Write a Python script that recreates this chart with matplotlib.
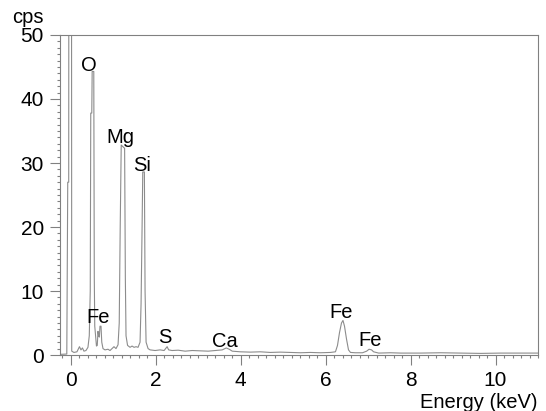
#!/usr/bin/env python3
"""EDS spectrum: counts per second vs energy"""

import matplotlib
matplotlib.use('Agg')
import matplotlib.pyplot as plt
from matplotlib.ticker import MultipleLocator

plt.rcParams['font.family'] = ['Liberation Sans', 'DejaVu Sans']

# spectrum trace (keV, cps)
energy = [-0.25, -0.09, -0.068, -0.045, -0.040, 0.019, 0.026, 0.078, 0.149,
          0.208, 0.243, 0.278, 0.314, 0.361, 0.408, 0.439, 0.462, 0.474,
          0.498, 0.507, 0.545, 0.557, 0.568, 0.585, 0.608, 0.627, 0.644,
          0.660, 0.676, 0.691, 0.715, 0.733, 0.762, 0.809, 0.880, 0.927,
          0.974, 1.021, 1.068, 1.116, 1.144, 1.167, 1.191, 1.271, 1.288,
          1.304, 1.340, 1.399, 1.446, 1.493, 1.540, 1.587, 1.634, 1.658,
          1.682, 1.698, 1.736, 1.752, 1.776, 1.823, 1.870, 1.988, 2.106,
          2.200, 2.271, 2.307, 2.389, 2.531, 2.696, 2.861, 3.050, 3.238,
          3.403, 3.568, 3.663, 3.733, 3.804, 3.993, 4.229, 4.465, 4.700,
          4.936, 5.172, 5.408, 5.644, 5.880, 6.116, 6.233, 6.281, 6.328,
          6.375, 6.410, 6.446, 6.493, 6.540, 6.587, 6.70, 6.87, 6.967,
          7.024, 7.083, 7.13, 7.25, 7.53, 7.77, 8.24, 8.71, 9.18, 9.65,
          10.13, 10.60, 11.0]
cps = [0.1, 0.15, 27, 27, 90, 90, 0.6, 0.4, 0.5,
       1.3, 0.8, 1.1, 0.6, 0.7, 1.2, 3.0, 10, 37.8,
       37.8, 44.3, 44.3, 12, 4.5, 3.2, 1.4, 1.5, 3.7,
       3.0, 2.8, 4.5, 4.5, 2.0, 1.0, 0.8, 0.9, 0.7,
       1.0, 1.3, 1.0, 1.6, 5.0, 20, 32.8, 32.3, 12,
       3.0, 1.5, 1.2, 1.4, 1.2, 1.3, 1.2, 2.0, 8.0,
       20, 28.6, 28.6, 10, 2.0, 1.0, 0.8, 0.7, 0.8,
       0.7, 1.3, 0.8, 0.7, 0.75, 0.6, 0.7, 0.65, 0.6,
       0.7, 0.8, 1.1, 0.9, 0.6, 0.5, 0.45, 0.5, 0.4,
       0.45, 0.4, 0.35, 0.4, 0.35, 0.4, 0.5, 1.5, 3.5,
       5.0, 5.4, 4.5, 2.5, 0.8, 0.4, 0.35, 0.35, 0.6,
       0.9, 0.8, 0.5, 0.3, 0.35, 0.3, 0.3, 0.35, 0.3, 0.25,
       0.3, 0.3, 0.3]

# peak labels (text, keV, cps at baseline of text)
peak_names = ['O', 'Mg', 'Si', 'Fe', 'S', 'Ca', 'Fe', 'Fe']
peak_x = [0.43, 1.18, 1.67, 0.645, 2.21, 3.62, 6.36, 7.04]
peak_y = [44.4, 33.2, 28.8, 4.95, 1.83, 1.3, 5.73, 1.4]

fig = plt.figure(figsize=(5.46, 4.11), dpi=100)
ax = fig.add_axes([60 / 546, 1 - 355 / 411, 478 / 546, 320 / 411])

ax.plot(energy, cps, color='#8c8c8c', linewidth=0.8)

for name, x, y in zip(peak_names, peak_x, peak_y):
    ax.text(x, y, name, ha='center', va='baseline', fontsize=14.5)

ax.set_xlim(-0.25, 11.0)
ax.set_ylim(0, 50)
ax.xaxis.set_major_locator(MultipleLocator(2))
ax.xaxis.set_minor_locator(MultipleLocator(0.2))
ax.yaxis.set_major_locator(MultipleLocator(10))
ax.yaxis.set_minor_locator(MultipleLocator(1))

for s in ax.spines.values():
    s.set_color('#808080')
    s.set_linewidth(0.8)
ax.tick_params(which='major', length=7, width=0.8, color='#808080',
               labelsize=15, pad=4.5)
ax.tick_params(which='minor', length=2, width=0.8, color='#808080')

fig.text(27.5 / 546, 1 - 22.7 / 411, 'cps', ha='center', va='baseline',
         fontsize=14.5)
fig.text(538 / 546, 1 - 407.5 / 411, 'Energy (keV)', ha='right',
         va='baseline', fontsize=14.5)

fig.savefig('out.png', dpi=100)
